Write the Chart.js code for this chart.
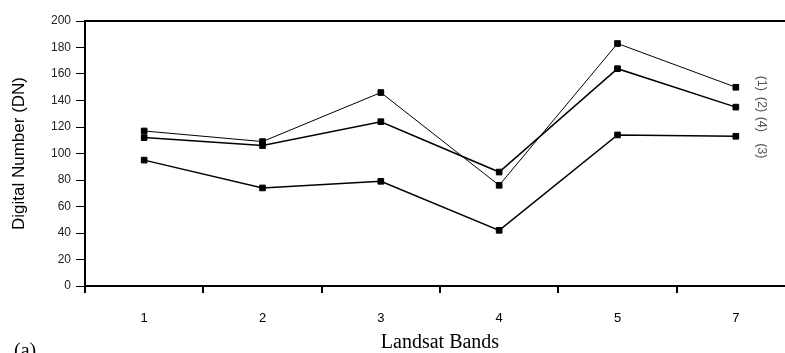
<!DOCTYPE html>
<html>
<head>
<meta charset="utf-8">
<script src="https://cdn.jsdelivr.net/npm/chart.js@4/dist/chart.umd.min.js"></script>
<style>
html,body{margin:0;padding:0;overflow:hidden;background:#fff;width:785px;height:353px}
#wrap{position:relative;width:800px;height:353px}
canvas{display:block}
</style>
</head>
<body>
<div id="wrap"><canvas id="c" width="800" height="353"></canvas></div>
<script>
// ---- data ----
const bands = ['1', '2', '3', '4', '5', '7'];
const series1 = [117, 109, 146, 76, 183, 150];
const series2 = [112, 106, 124, 86, 164, 135];
const series3 = [95, 74, 79, 42, 114, 113];
const yTickValues = [0, 20, 40, 60, 80, 100, 120, 140, 160, 180, 200];
const sideLabels = ['(1)', '(2)', '(4)', '(3)'];
const sideLabelLevels = [153, 137, 122, 102];

const annot = {
  id: 'annot',
  afterDraw(chart) {
    const ctx = chart.ctx;
    const y = chart.scales.y;
    ctx.save();
    ctx.font = '12.5px "Liberation Sans"';
    ctx.fillStyle = '#555';
    ctx.textAlign = 'center';
    ctx.textBaseline = 'middle';
    sideLabels.forEach((t, i) => {
      const py = y.getPixelForValue(sideLabelLevels[i]);
      ctx.save();
      ctx.translate(761, py);
      ctx.rotate(Math.PI / 2);
      ctx.fillText(t, 0, 0);
      ctx.restore();
    });
    ctx.font = '20px "Liberation Serif"';
    ctx.fillStyle = '#000';
    ctx.textAlign = 'left';
    ctx.textBaseline = 'alphabetic';
    ctx.fillText('(a)', 14, 357);
    ctx.restore();
  }
};

function ds(values, width) {
  return {
    data: values,
    borderColor: '#000',
    borderWidth: width,
    pointStyle: 'rect',
    pointRadius: 4,
    pointBackgroundColor: '#000',
    pointBorderColor: '#000',
    pointBorderWidth: 1,
    tension: 0,
    fill: false
  };
}

new Chart(document.getElementById('c'), {
  type: 'line',
  data: {
    labels: bands,
    datasets: [ds(series1, 1), ds(series2, 1.5), ds(series3, 1.5)]
  },
  options: {
    responsive: false,
    animation: false,
    layout: { padding: { left: 0, right: 3, top: 21, bottom: 0 } },
    plugins: { legend: { display: false }, tooltip: { enabled: false } },
    scales: {
      x: {
        type: 'category',
        offset: true,
        grid: { offset: true, drawOnChartArea: false, drawTicks: true, tickLength: 7, color: '#000', lineWidth: 2 },
        border: { display: true, color: '#000', width: 2 },
        ticks: { color: '#000', font: { family: 'Liberation Sans', size: 13 }, padding: 18, maxRotation: 0 },
        title: { display: true, text: 'Landsat Bands', color: '#000',
                 font: { family: 'Liberation Serif', size: 20, lineHeight: 1 }, padding: { top: 0, bottom: 0 } },
        afterFit(s) { s.height = 67; }
      },
      xTop: {
        type: 'linear',
        position: 'top',
        min: 0, max: 1,
        grid: { display: true, drawOnChartArea: false, drawTicks: false },
        border: { display: true, color: '#000', width: 2 },
        ticks: { display: false },
        afterFit(s) { s.height = 0; }
      },
      y: {
        min: 0, max: 200,
        afterBuildTicks(s) { s.ticks = yTickValues.map(v => ({ value: v })); },
        grid: { drawOnChartArea: false, drawTicks: true, tickLength: 9, color: '#000', lineWidth: 1 },
        border: { display: true, color: '#000', width: 2 },
        ticks: { color: '#222', font: { family: 'Liberation Sans', size: 12 }, padding: 5 },
        title: { display: true, text: 'Digital Number (DN)', color: '#000',
                 font: { family: 'Liberation Sans', size: 17, lineHeight: 1.2 }, padding: { top: 9, bottom: 0 } },
        afterFit(s) { s.width = 85; }
      }
    }
  },
  plugins: [annot]
});
</script>
</body>
</html>
